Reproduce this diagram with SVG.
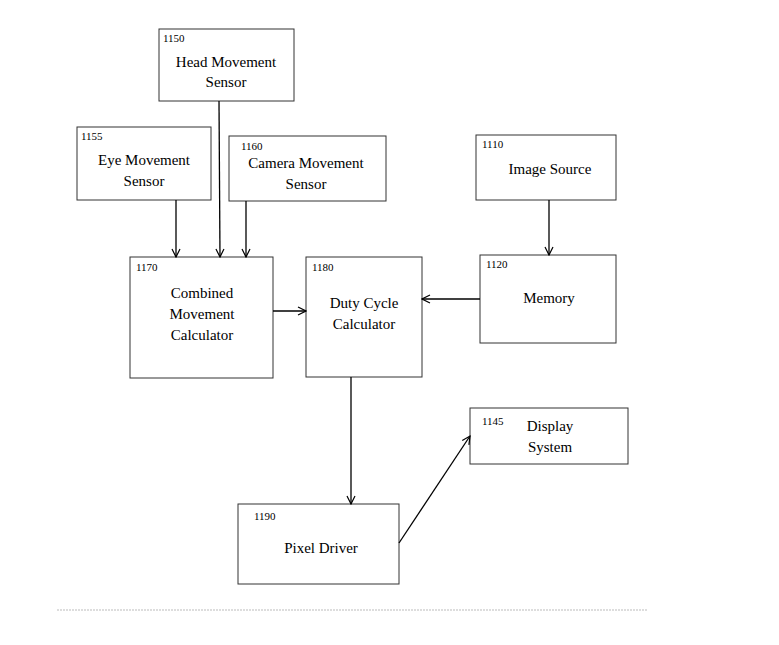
<svg xmlns="http://www.w3.org/2000/svg" width="779" height="645" viewBox="0 0 779 645">
<style>
rect{fill:#fff;stroke:#333;stroke-width:1}
.n{font-family:"Liberation Serif",serif;font-size:11px;fill:#000}
.t{font-family:"Liberation Serif",serif;font-size:15px;fill:#000;text-anchor:middle}
.c line{stroke:#000;stroke-width:1.3;marker-end:url(#a)}
</style>
<defs><marker id="a" markerWidth="10" markerHeight="10" refX="9" refY="5" orient="auto" markerUnits="userSpaceOnUse"><path d="M1,1 L9,5 L1,9" fill="none" stroke="#000" stroke-width="1.2"/></marker></defs>
<rect x="0" y="0" width="779" height="645" style="fill:#fff;stroke:none"/>
<g id="n1150"><rect x="159" y="29" width="135" height="72"/><text class="n" x="163" y="42">1150</text><text class="t" x="226" y="67">Head Movement</text><text class="t" x="226" y="87">Sensor</text></g>
<g id="n1155"><rect x="77" y="127" width="134" height="73"/><text class="n" x="81" y="140">1155</text><text class="t" x="144" y="165">Eye Movement</text><text class="t" x="144" y="186">Sensor</text></g>
<g id="n1160"><rect x="229" y="136" width="157" height="65"/><text class="n" x="241" y="150">1160</text><text class="t" x="306" y="168">Camera Movement</text><text class="t" x="306" y="189">Sensor</text></g>
<g id="n1110"><rect x="476" y="135" width="140" height="65"/><text class="n" x="482" y="148">1110</text><text class="t" x="550" y="174">Image Source</text></g>
<g id="n1170"><rect x="130" y="257" width="143" height="121"/><text class="n" x="136" y="271">1170</text><text class="t" x="202" y="298">Combined</text><text class="t" x="202" y="319">Movement</text><text class="t" x="202" y="340">Calculator</text></g>
<g id="n1180"><rect x="306" y="257" width="116" height="120"/><text class="n" x="312" y="271">1180</text><text class="t" x="364" y="308">Duty Cycle</text><text class="t" x="364" y="329">Calculator</text></g>
<g id="n1120"><rect x="480" y="255" width="136" height="88"/><text class="n" x="486" y="268">1120</text><text class="t" x="549" y="303">Memory</text></g>
<g id="n1145"><rect x="470" y="408" width="158" height="56"/><text class="n" x="482" y="425">1145</text><text class="t" x="550" y="431">Display</text><text class="t" x="550" y="452">System</text></g>
<g id="n1190"><rect x="238" y="504" width="161" height="80"/><text class="n" x="254" y="520">1190</text><text class="t" x="321" y="553">Pixel Driver</text></g>
<g class="c">
<line x1="176" y1="200" x2="176" y2="257"/>
<line x1="219" y1="101" x2="220" y2="257"/>
<line x1="246" y1="201" x2="246" y2="257"/>
<line x1="549" y1="200" x2="549" y2="255"/>
<line x1="480" y1="299" x2="422" y2="299"/>
<line x1="273" y1="311" x2="306" y2="311"/>
<line x1="351" y1="377" x2="351" y2="504"/>
<line x1="399" y1="543" x2="470" y2="436"/>
</g>
<line x1="57" y1="610" x2="648" y2="610" stroke="#bbb" stroke-dasharray="2,1"/>
</svg>
